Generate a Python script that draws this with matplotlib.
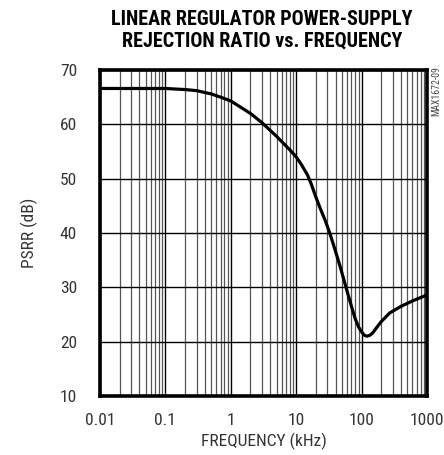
import matplotlib
matplotlib.use("Agg")
import matplotlib.pyplot as plt
from matplotlib import font_manager
from matplotlib.ticker import LogLocator, FixedLocator, NullFormatter

entries = font_manager.fontManager.ttflist
names = sorted({f.name for f in entries})
pref = ["Liberation Sans Narrow", "Roboto Condensed", "Open Sans Condensed",
        "Noto Sans Condensed", "DejaVu Sans Condensed"]
cond = [n for n in pref if n in names] + [n for n in names
        if ("Narrow" in n or "Condensed" in n) and n not in pref]


def has_bold(n):
    return any(f.name == n and (f.weight in ("bold", 700, 800, 900) or
               (isinstance(f.weight, int) and f.weight >= 600)) for f in entries)


cond_bold = [n for n in cond if has_bold(n)]
body_fam = cond[:1] + ["Liberation Sans", "DejaVu Sans"]
title_fam = (cond_bold[:1] or cond[:1]) + ["Liberation Sans", "DejaVu Sans"]
plt.rcParams["font.family"] = body_fam
IS_COND = bool(cond)

freq_khz = [0.01, 0.03, 0.1, 0.2, 0.3, 0.5, 0.7, 1, 2, 3, 5, 8, 10, 12, 15, 17, 20,
            23, 28, 33, 40, 47, 60, 70, 80, 90, 100, 110, 120, 135, 150, 170, 200,
            270, 400, 600, 1000]
psrr_db = [66.6, 66.6, 66.6, 66.4, 66.2, 65.6, 65.0, 64.3, 62.0, 60.3, 57.8, 55.3,
           54.0, 52.6, 50.6, 49.0, 46.6, 44.7, 42.2, 39.8, 36.6, 33.8, 29.3, 26.5,
           24.2, 22.7, 21.8, 21.2, 21.0, 21.2, 21.7, 22.6, 23.7, 25.3, 26.5, 27.5, 28.6]

x_ticks = [0.01, 0.1, 1, 10, 100, 1000]
x_tick_labels = ["0.01", "0.1", "1", "10", "100", "1000"]
y_ticks = [10, 20, 30, 40, 50, 60, 70]

fs = 12.5 if IS_COND else 10.5
fig = plt.figure(figsize=(4.44, 4.55), dpi=100)
ax = fig.add_axes([100/444, 1-396/455, 327/444, 326/455])

ax.plot(freq_khz, psrr_db, color="black", lw=2.3, solid_capstyle="round",
        solid_joinstyle="round", zorder=5)
ax.set_xscale("log")
ax.set_xlim(0.01, 1000)
ax.set_ylim(10, 70)
ax.xaxis.set_major_locator(FixedLocator(x_ticks))
ax.set_xticklabels(x_tick_labels)
ax.xaxis.set_minor_locator(LogLocator(base=10, subs=range(2, 10), numticks=20))
ax.xaxis.set_minor_formatter(NullFormatter())
ax.set_yticks(y_ticks)

ax.grid(True, which="major", axis="both", color="black", lw=1.0)
ax.grid(True, which="minor", axis="x", color="#555555", lw=0.9)
ax.tick_params(which="both", length=0, labelsize=fs, colors="#333333")
ax.tick_params(axis="x", pad=12)
ax.tick_params(axis="y", pad=16.5)
for s in ax.spines.values():
    s.set_linewidth(2.6)
    s.set_color("black")

ax.set_xlabel("FREQUENCY (kHz)", fontsize=fs, color="#333333", labelpad=4)
ax.set_ylabel("PSRR (dB)", fontsize=fs, color="#333333", labelpad=16)

fig.text(0.59, 0.978, "LINEAR REGULATOR POWER-SUPPLY\nREJECTION RATIO vs. FREQUENCY",
         ha="center", va="top", fontsize=14.5 if IS_COND else 12.5, fontweight="bold",
         linespacing=1.15, family=title_fam)
fig.text(0.982, 0.80, "MAX1672-09", rotation=90, ha="center", va="center",
         fontsize=7, color="#444444")

fig.savefig("out.png", dpi=100)
